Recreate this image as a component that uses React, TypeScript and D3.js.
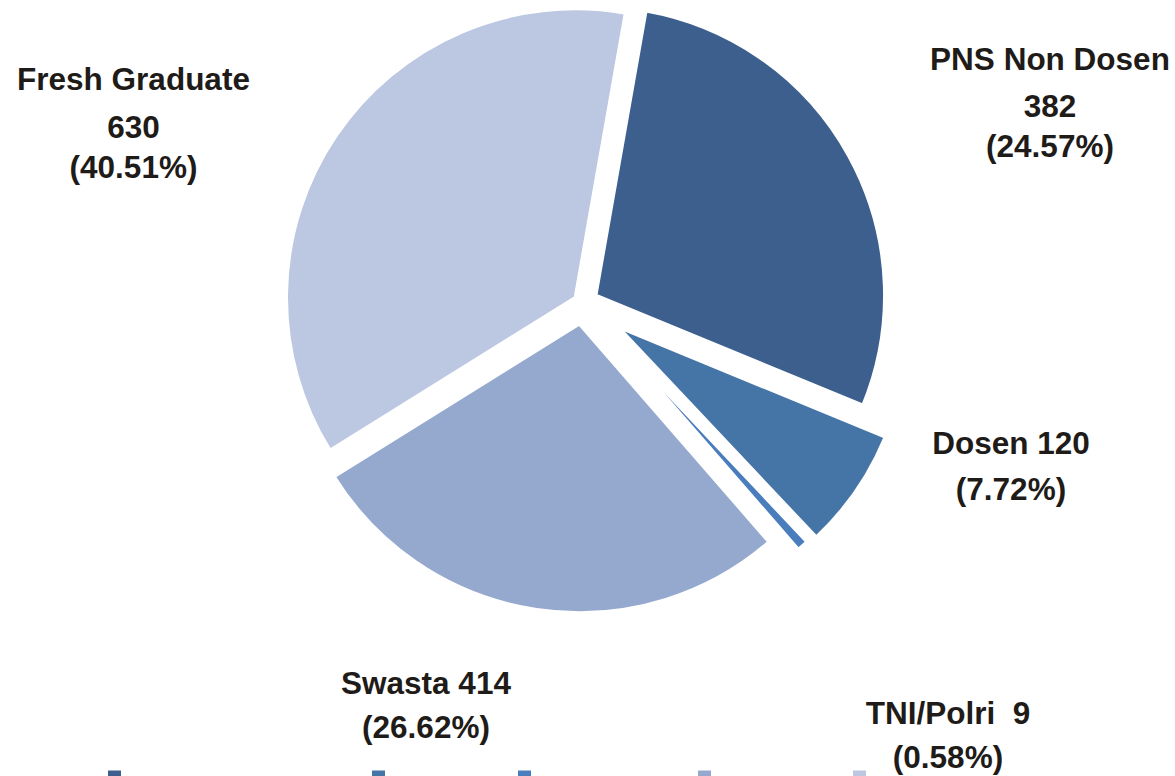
import React from "react";
import * as d3 from "d3";

// ---- data ----
const categories = ["PNS Non Dosen", "Dosen", "TNI/Polri", "Swasta", "Fresh Graduate"];
const counts = [382, 120, 9, 414, 630];
const percentLabels = ["24.57%", "7.72%", "0.58%", "26.62%", "40.51%"];
// slice sizes as drawn in the picture (percent of the full circle)
const sliceShares = [28.44, 6.75, 0.64, 27.53, 36.64];

// ---- styling / layout ----
const colors = ["#3c5f8e", "#4574a7", "#4a7dbb", "#95a9cf", "#bcc8e1"];
const explode = [15, 43, 39, 21.5, 8.8];
const labelLayout = [
  { x: 1050, ys: [70, 116.7, 156.7] },
  { x: 1011, ys: [454, 500] },
  { x: 948, ys: [724, 768] },
  { x: 426, ys: [694, 738] },
  { x: 133.5, ys: [90, 137.7, 178.3] },
];
const legendX = [108, 372, 518, 698, 853];

const W = 1175;
const H = 776;
const CX = 582.6;
const CY = 302.6;
const R = 289;
const START_DEG = 10;

function labelLines(i: number): string[] {
  const name = categories[i];
  const c = String(counts[i]);
  const p = `(${percentLabels[i]})`;
  if (name === "PNS Non Dosen" || name === "Fresh Graduate") return [name, c, p];
  if (name === "TNI/Polri") return [`${name}  ${c}`, p];
  return [`${name} ${c}`, p];
}

export default function App() {
  const start = (START_DEG * Math.PI) / 180;
  const pie = d3
    .pie<number>()
    .sort(null)
    .value((d) => d)
    .startAngle(start)
    .endAngle(start + 2 * Math.PI);
  const arcs = pie(sliceShares);
  const arcGen = d3.arc<d3.PieArcDatum<number>>().innerRadius(0).outerRadius(R);

  return (
    <svg
      width={W}
      height={H}
      style={{ position: "absolute", left: 0, top: 0, background: "#fff" }}
      fontFamily="'Liberation Sans', Arial, sans-serif"
    >
      <rect x={0} y={0} width={W} height={H} fill="#fff" />
      {arcs.map((a, i) => {
        const mid = (a.startAngle + a.endAngle) / 2;
        const dx = explode[i] * Math.sin(mid);
        const dy = -explode[i] * Math.cos(mid);
        return (
          <path
            key={categories[i]}
            d={arcGen(a) || ""}
            transform={`translate(${CX + dx},${CY + dy})`}
            fill={colors[i]}
            stroke="#fff"
            strokeWidth={3.4}
            strokeLinejoin="miter"
          />
        );
      })}
      {categories.map((c, i) => {
        const lines = labelLines(i);
        const lay = labelLayout[i];
        return (
          <text
            key={"lbl" + c}
            textAnchor="middle"
            fontWeight="bold"
            fontSize={31.5}
            fill="#1e1b18"
            style={{ whiteSpace: "pre" }}
          >
            {lines.map((l, j) => (
              <tspan key={j} x={lay.x} y={lay.ys[j]}>
                {l}
              </tspan>
            ))}
          </text>
        );
      })}
      {categories.map((c, i) => (
        <rect key={"lg" + c} x={legendX[i]} y={770.5} width={13} height={13} fill={colors[i]} />
      ))}
    </svg>
  );
}
